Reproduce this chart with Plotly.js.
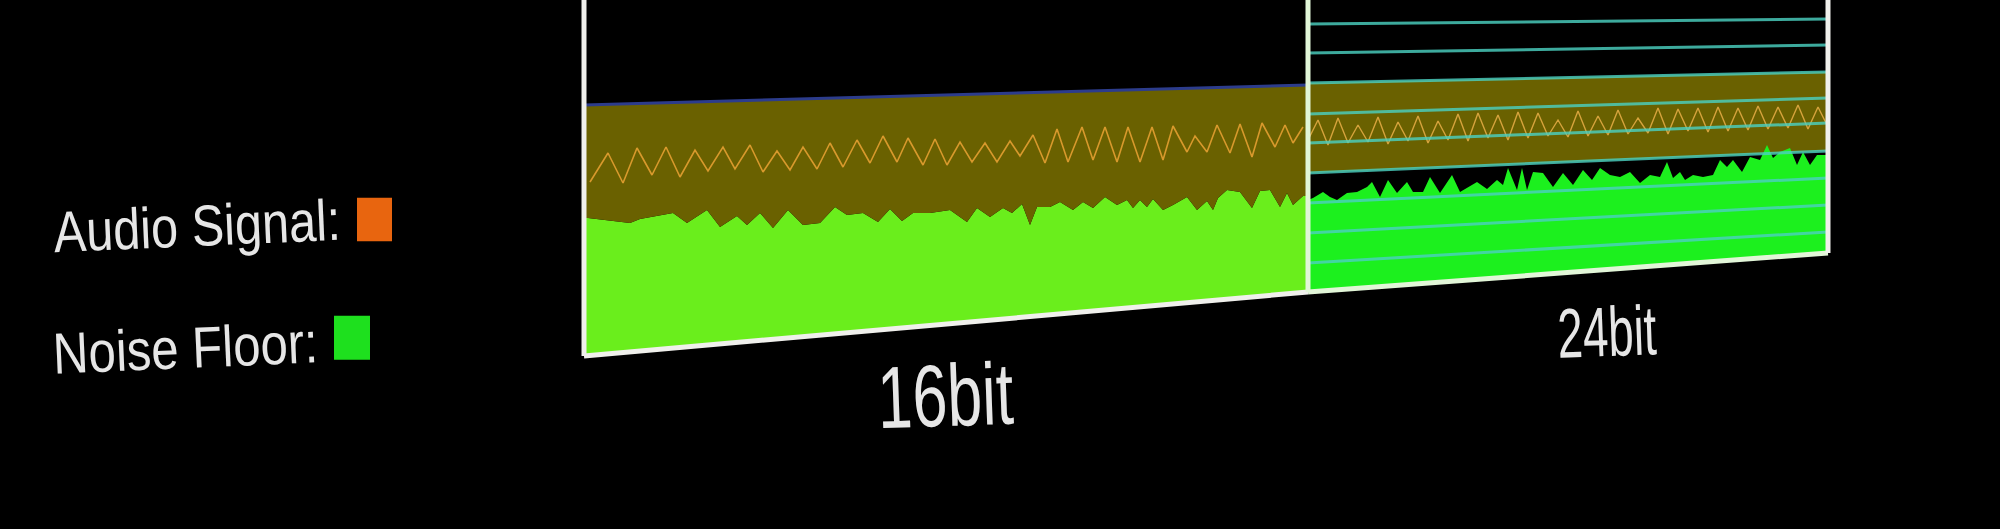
<!DOCTYPE html>
<html>
<head>
<meta charset="utf-8">
<title>16bit vs 24bit noise floor</title>
<script src="https://cdn.plot.ly/plotly-3.0.1.min.js"></script>
<style>
  html, body { margin: 0; padding: 0; background: #000; }
  #chart { width: 2000px; height: 529px; }
</style>
</head>
<body>
<div id="chart"></div>
<script>
// Colours picked off the reference frame
const COLORS = {
  bg: '#000000',
  olive: '#6a6100',
  green16: '#6aee1c',
  green24: '#1cf01e',
  signal16: '#d8992c',
  signal24: '#d6a33c',
  blue: '#2c3c8c',
  grid: 'rgba(74,208,192,0.82)',
  frame: '#f0f0ec',
  divider: '#e2f6d8',
  text: '#e6e6e6',
  orange: '#e8650f',
  legendGreen: '#1ee01e'
};

const FONT = '"Liberation Sans", Arial, sans-serif';

// Level scale (vertical) runs 0..529, sample index runs along each panel
const levelTop = 529;

// ---- 16bit panel ----
const ends16 = [0, 724];
const floor16 = [173, 237];        // bottom edge of the panel
const bandTop16 = [424, 444];      // top of the signal range (blue line)
const noiseX16 = [0, 4, 46, 56, 89, 103, 123, 136, 153, 163, 176, 189, 204, 219, 236, 251, 263, 279, 294, 306,
  318, 329, 346, 366, 383, 393, 406, 419, 428, 438, 446, 453, 466, 476, 489, 499, 509, 521, 533, 543,
  549, 556, 563, 569, 579, 589, 603, 613, 623, 629, 634, 643, 656, 668, 676, 686, 696, 703, 709, 719, 724];
const noiseY16 = [311, 311, 306, 310, 316, 306, 319, 302, 313, 304, 316, 301, 319, 304, 306, 322, 314, 316, 307, 320,
  308, 316, 316, 319, 307, 321, 312, 321, 316, 325, 304, 322, 322, 327, 319, 327, 321, 332, 324, 329,
  321, 329, 322, 330, 319, 324, 332, 319, 328, 319, 331, 339, 337, 321, 338, 339, 322, 336, 324, 333, 333];
const signalX16 = [6, 24, 39, 53, 68, 82, 96, 111, 124, 139, 151, 166, 179, 193, 206, 219, 233, 246, 259, 273,
  286, 299, 313, 324, 339, 351, 363, 376, 388, 401, 413, 426, 436, 449, 461, 473, 484, 498, 509, 521,
  533, 544, 556, 568, 579, 589, 603, 611, 623, 633, 646, 656, 668, 678, 691, 701, 709, 719];
const signalY16 = [347, 376, 346, 381, 354, 382, 352, 379, 358, 382, 360, 384, 357, 378, 359, 382, 360, 386, 362, 389,
  366, 393, 367, 391, 364, 390, 364, 387, 367, 386, 367, 388, 373, 394, 366, 400, 367, 402, 369, 402,
  367, 402, 367, 402, 369, 403, 377, 393, 377, 404, 376, 405, 372, 406, 382, 404, 386, 402];

// ---- 24bit panel ----
const ends24 = [0, 520];
const floor24 = [237, 276];
const bandTop24 = [446, 457];
const bandBottom24 = [356, 378];
// quantisation steps drawn as lines: value at left end / right end
const gridLeft24 = [505, 476, 446, 415, 386, 356, 326, 296, 266];
const gridRight24 = [510, 484, 457, 431, 406, 378, 351, 324, 297];
const noiseX24 = [0, 5, 15, 22, 29, 39, 49, 59, 64, 72, 80, 89, 99, 105, 115, 122, 132, 144, 152, 159,
  169, 179, 189, 195, 200, 209, 214, 219, 225, 235, 245, 255, 265, 275, 284, 292, 302, 312, 322, 332,
  342, 352, 359, 365, 372, 377, 385, 395, 405, 412, 419, 425, 434, 442, 452, 459, 465, 472, 482, 489,
  495, 502, 509, 520];
const noiseY24 = [329, 331, 337, 332, 329, 336, 337, 342, 347, 332, 349, 336, 347, 337, 337, 352, 336, 354, 337, 341,
  347, 340, 349, 344, 361, 339, 361, 339, 357, 356, 342, 356, 344, 359, 349, 361, 354, 352, 357, 346,
  354, 352, 367, 351, 357, 349, 354, 352, 354, 369, 362, 369, 357, 372, 369, 384, 371, 377, 381, 364,
  377, 364, 374, 374];
const signalX24 = [0, 10, 20, 30, 40, 50, 60, 70, 80, 90, 100, 110, 120, 130, 140, 150, 160, 170, 180, 190,
  200, 210, 220, 230, 240, 250, 260, 270, 280, 290, 300, 310, 320, 330, 340, 350, 360, 370, 380, 390,
  400, 410, 420, 430, 440, 450, 460, 470, 480, 490, 500, 510, 520];
const signalY24 = [389, 409, 384, 411, 386, 404, 387, 412, 385, 407, 388, 413, 386, 408, 389, 415, 388, 416, 391, 414,
  389, 417, 391, 416, 393, 409, 392, 418, 393, 413, 394, 419, 395, 411, 396, 421, 395, 420, 398, 421,
  397, 422, 398, 421, 399, 423, 400, 422, 401, 424, 400, 422, 402];

// Labels
const legendLabels = ['Audio Signal:', 'Noise Floor:'];
const panelLabels = ['16bit', '24bit'];
// the reference text is squeezed sideways by the camera angle; widths in px
const labelWidths = [287, 265, 136, 99];

// small helper so every trace shares the same defaults
function line(x, y, axis, opts) {
  return Object.assign({
    x: x, y: y,
    xaxis: axis[0], yaxis: axis[1],
    type: 'scatter', mode: 'lines',
    hoverinfo: 'skip', showlegend: false
  }, opts);
}

function buildTraces() {
  const a16 = ['x', 'y'];
  const a24 = ['x2', 'y2'];
  const traces = [];

  // 16bit: noise floor filled up from the panel floor, signal range above it
  traces.push(line(ends16, floor16, a16, { line: { width: 0 } }));
  traces.push(line(noiseX16, noiseY16, a16, { fill: 'tonexty', fillcolor: COLORS.green16, line: { width: 0 } }));
  traces.push(line(ends16, bandTop16, a16, { fill: 'tonexty', fillcolor: COLORS.olive, line: { color: COLORS.blue, width: 3 } }));
  traces.push(line(signalX16, signalY16, a16, { line: { color: COLORS.signal16, width: 1.6 } }));

  // 16bit frame
  traces.push(line(ends16, floor16, a16, { line: { color: COLORS.frame, width: 5 } }));
  traces.push(line([ends16[0], ends16[0]], [floor16[0], levelTop], a16, { line: { color: COLORS.frame, width: 5 } }));

  // 24bit: signal band, then noise floor
  traces.push(line(ends24, bandBottom24, a24, { line: { width: 0 } }));
  traces.push(line(ends24, bandTop24, a24, { fill: 'tonexty', fillcolor: COLORS.olive, line: { width: 0 } }));
  traces.push(line(ends24, floor24, a24, { line: { width: 0 } }));
  traces.push(line(noiseX24, noiseY24, a24, { fill: 'tonexty', fillcolor: COLORS.green24, line: { width: 0 } }));
  traces.push(line(signalX24, signalY24, a24, { line: { color: COLORS.signal24, width: 1.4 } }));

  // 24bit quantisation steps
  gridLeft24.forEach((v, i) => {
    traces.push(line(ends24, [v, gridRight24[i]], a24, { line: { color: COLORS.grid, width: 3 } }));
  });

  // 24bit frame
  traces.push(line(ends24, floor24, a24, { line: { color: COLORS.divider, width: 5 } }));
  traces.push(line([ends24[0], ends24[0]], [floor24[0], levelTop], a24, { line: { color: COLORS.divider, width: 5 } }));
  traces.push(line([ends24[1], ends24[1]], [floor24[1], levelTop], a24, { line: { color: COLORS.frame, width: 5 } }));

  return traces;
}

function buildLayout() {
  const hidden = { visible: false, fixedrange: true };
  return {
    width: 2000,
    height: 529,
    margin: { l: 0, r: 0, t: 0, b: 0 },
    paper_bgcolor: COLORS.bg,
    plot_bgcolor: 'rgba(0,0,0,0)',
    showlegend: false,
    xaxis: Object.assign({ domain: [0.289, 0.657], range: [-6, 730], anchor: 'y' }, hidden),
    yaxis: Object.assign({ domain: [0, 1], range: [0, levelTop], anchor: 'x' }, hidden),
    xaxis2: Object.assign({ domain: [0.651, 0.917], range: [-6, 526], anchor: 'y2' }, hidden),
    yaxis2: Object.assign({ domain: [0, 1], range: [0, levelTop], anchor: 'x2' }, hidden),
    annotations: [
      { text: legendLabels[0], x: 0.0983, y: 0.574, textangle: -2.5,
        font: { family: FONT, size: 58, color: COLORS.text } },
      { text: legendLabels[1], x: 0.0928, y: 0.344, textangle: -2.5,
        font: { family: FONT, size: 58, color: COLORS.text } },
      { text: panelLabels[0], x: 0.4725, y: 0.253, textangle: -2,
        font: { family: FONT, size: 88, color: COLORS.text } },
      { text: panelLabels[1], x: 0.8035, y: 0.372, textangle: -2,
        font: { family: FONT, size: 70, color: COLORS.text } }
    ].map(a => Object.assign({ xref: 'paper', yref: 'paper', xanchor: 'center', yanchor: 'middle', showarrow: false }, a)),
    shapes: [
      // legend swatches
      { type: 'rect', xref: 'paper', yref: 'paper', x0: 0.1785, x1: 0.196, y0: 0.544, y1: 0.626,
        fillcolor: COLORS.orange, line: { width: 0 } },
      { type: 'rect', xref: 'paper', yref: 'paper', x0: 0.167, x1: 0.185, y0: 0.320, y1: 0.403,
        fillcolor: COLORS.legendGreen, line: { width: 0 } }
    ]
  };
}

// squeeze the labels horizontally like the tilted camera view does
function squeezeLabels(gd) {
  const texts = gd.querySelectorAll('.annotation-text');
  texts.forEach((t, i) => {
    if (labelWidths[i]) {
      t.setAttribute('textLength', labelWidths[i]);
      t.setAttribute('lengthAdjust', 'spacingAndGlyphs');
    }
  });
}

function drawChart() {
  console.log('drawing noise floor chart');
  Plotly.newPlot('chart', buildTraces(), buildLayout(), { displayModeBar: false, staticPlot: true })
    .then(squeezeLabels);
}

drawChart();
</script>
</body>
</html>
